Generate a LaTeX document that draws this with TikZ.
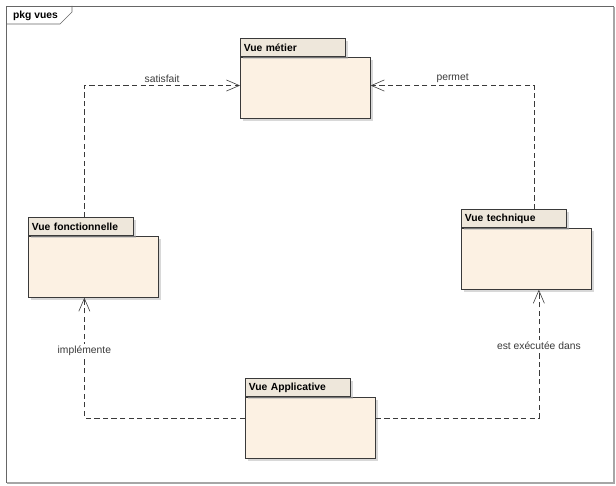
\documentclass[tikz,border=0pt]{standalone}
\usepackage{fontspec}
\setmainfont{Liberation Sans}
\usetikzlibrary{arrows.meta,shadows}

\definecolor{pkgFill}{HTML}{FCF1E3}
\definecolor{tabFill}{HTML}{EEE7DB}
\definecolor{lineGrey}{HTML}{3A3A3A}

\begin{document}
\begin{tikzpicture}[
    x=0.03cm, y=-0.03cm,
    pkgbody/.style={draw=lineGrey, fill=pkgFill, anchor=north west,
                    line width=0.6pt,
                    minimum width=3.9cm, minimum height=1.83cm,
                    drop shadow={shadow xshift=2.2pt, shadow yshift=-2.2pt,
                                 fill=black!30}},
    pkgtab/.style={draw=lineGrey, fill=tabFill, anchor=south west,
                   line width=0.6pt,
                   minimum height=0.54cm, text width=3.15cm-6pt,
                   inner xsep=3pt, inner ysep=0pt, align=left,
                   font=\fontsize{8.8}{10}\selectfont\bfseries,
                   drop shadow={shadow xshift=2.2pt, shadow yshift=-2.2pt,
                                fill=black!30}},
    dep/.style={lineGrey, line width=0.5pt, dash pattern=on 4.5pt off 2.8pt,
                -{Straight Barb[length=11pt,width=9.5pt]}},
    lbl/.style={font=\fontsize{8.8}{10}\selectfont, text=lineGrey,
                inner sep=1.5pt},
]
\useasboundingbox (0,0) rectangle (616,486);

% frame
\draw[black!60, line width=0.5pt] (6,6) rectangle (613,482);
\draw[black!35, line width=1.2pt] (614,7) -- (614,483) -- (7,483);
\node[font=\fontsize{8.8}{10}\selectfont\bfseries, anchor=west]
    (frametitle) at (9,15.5) {pkg vues};
\draw[black!60, line width=0.5pt] (6,24) -- (60,24) -- (72,12) -- (72,6);

% packages
\node[pkgbody] (metier) at (240,57) {};
\node[pkgtab] (metier-tab) at (metier.north west) {Vue métier};

\node[pkgbody] (fonct) at (28,236) {};
\node[pkgtab] (fonct-tab) at (fonct.north west) {Vue fonctionnelle};

\node[pkgbody] (techn) at (461,228) {};
\node[pkgtab] (techn-tab) at (techn.north west) {Vue technique};

\node[pkgbody] (appli) at (245,397) {};
\node[pkgtab] (appli-tab) at (appli.north west) {Vue Applicative};

% dependencies
\draw[dep] ([xshift=0.1cm]fonct-tab.north) |- ([yshift=0.07cm]metier.west)
    node[lbl, pos=0.75, above=1pt] {satisfait};
\draw[dep] ([xshift=0.62cm]techn-tab.north) |- ([yshift=0.07cm]metier.east)
    node[lbl, pos=0.75, above=1pt] {permet};
\draw[dep] ([yshift=0.3cm]appli.west) -| ([xshift=-0.27cm]fonct.south)
    node[lbl, pos=0.78, fill=white] {implémente};
\draw[dep] ([yshift=0.3cm]appli.east) -| ([xshift=0.375cm]techn.south)
    node[lbl, pos=0.78, fill=white] {est exécutée dans};

\end{tikzpicture}
\end{document}
